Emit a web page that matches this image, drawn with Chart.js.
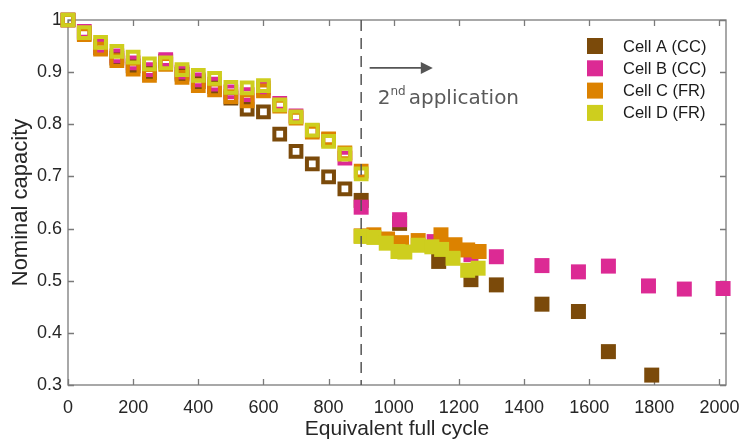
<!DOCTYPE html>
<html>
<head>
<meta charset="utf-8">
<script src="https://cdn.jsdelivr.net/npm/chart.js@4.4.0/dist/chart.umd.min.js"></script>
<style>
  html, body { margin: 0; padding: 0; background: #fff; }
  #wrap { width: 742px; height: 443px; }
</style>
</head>
<body>
<div id="wrap"><canvas id="capChart"></canvas></div>
<script>
// 1st application: every 50 cycles (hollow markers)
const cycles1 = [0, 50, 100, 150, 200, 250, 300, 350, 400, 450, 500, 550, 600, 650, 700, 750, 800, 850, 900];
const capA1 = [1.0, 0.975, 0.947, 0.927, 0.912, 0.899, 0.921, 0.896, 0.882, 0.872, 0.850, 0.829, 0.824, 0.781, 0.748, 0.724, 0.699, 0.676];
const capB1 = [1.0, 0.978, 0.950, 0.931, 0.918, 0.905, 0.924, 0.900, 0.885, 0.877, 0.862, 0.857, 0.870, 0.840, 0.816, 0.788, 0.770, 0.735];
const capC1 = [1.0, 0.972, 0.944, 0.922, 0.906, 0.894, 0.915, 0.890, 0.874, 0.866, 0.853, 0.845, 0.864, 0.835, 0.812, 0.785, 0.772, 0.745, 0.710];
const capD1 = [1.0, 0.976, 0.957, 0.940, 0.929, 0.916, 0.918, 0.905, 0.894, 0.888, 0.871, 0.870, 0.874, 0.837, 0.814, 0.789, 0.767, 0.743, 0.705];

// 2nd application (filled markers)
const cyclesA2 = [900, 1018, 1138, 1237, 1315, 1455, 1567, 1659, 1792];
const capA2 = [0.654, 0.610, 0.537, 0.502, 0.492, 0.455, 0.441, 0.364, 0.319];
const cyclesB2 = [900, 1018, 1124, 1237, 1315, 1455, 1567, 1659, 1782, 1892, 2011];
const capB2 = [0.641, 0.617, 0.575, 0.550, 0.546, 0.529, 0.517, 0.528, 0.490, 0.484, 0.485];
const cyclesC2 = [900, 939, 981, 1024, 1075, 1145, 1188, 1227, 1262];
const capC2 = [0.586, 0.588, 0.580, 0.573, 0.577, 0.588, 0.569, 0.559, 0.556];
const cyclesD2 = [900, 939, 977, 1013, 1034, 1075, 1117, 1147, 1182, 1227, 1259];
const capD2 = [0.585, 0.583, 0.572, 0.556, 0.555, 0.568, 0.565, 0.560, 0.543, 0.520, 0.524];

const cellNames = ['Cell A (CC)', 'Cell B (CC)', 'Cell C (FR)', 'Cell D (FR)'];
const cellColors = ['#7b4a0a', '#dc2a94', '#dc8200', '#cece1e'];

const xTicks = [0, 200, 400, 600, 800, 1000, 1200, 1400, 1600, 1800, 2000];
const yTicks = [0.3, 0.4, 0.5, 0.6, 0.7, 0.8, 0.9, 1.0];
const switchCycle = 900;

const sans = '"Liberation Sans", Arial, sans-serif';

function pts(xs, ys) {
  return ys.map((v, i) => ({ x: xs[i], y: v }));
}

function hollow(i, data) {
  return {
    label: cellNames[i], data: data, order: 3 - i, clip: false,
    pointStyle: 'rect', pointRadius: 7.6, pointHoverRadius: 7.6,
    pointBackgroundColor: 'rgba(0,0,0,0)', pointBorderColor: cellColors[i], pointBorderWidth: 4,
    showLine: false
  };
}
function filled(i, data) {
  return {
    label: cellNames[i], data: data, order: 3 - i, clip: false,
    pointStyle: 'rect', pointRadius: 10.6, pointHoverRadius: 10.6,
    pointBackgroundColor: cellColors[i], pointBorderColor: cellColors[i], pointBorderWidth: 0,
    showLine: false
  };
}

const datasets = [
  hollow(0, pts(cycles1, capA1)), filled(0, pts(cyclesA2, capA2)),
  hollow(1, pts(cycles1, capB1)), filled(1, pts(cyclesB2, capB2)),
  hollow(2, pts(cycles1, capC1)), filled(2, pts(cyclesC2, capC2)),
  hollow(3, pts(cycles1, capD1)), filled(3, pts(cyclesD2, capD2))
];

// box with inward ticks, dashed switch line, legend and arrow note
const decor = {
  id: 'decor',
  beforeDatasetsDraw(chart) {
    const { ctx, chartArea: a, scales: { x, y } } = chart;
    ctx.save();
    ctx.strokeStyle = '#7a7a7a';
    ctx.lineWidth = 1.3;
    ctx.strokeRect(a.left, a.top, a.right - a.left, a.bottom - a.top);
    ctx.beginPath();
    xTicks.forEach(v => {
      const px = Math.round(x.getPixelForValue(v)) + 0.5;
      ctx.moveTo(px, a.bottom); ctx.lineTo(px, a.bottom - 6);
      ctx.moveTo(px, a.top); ctx.lineTo(px, a.top + 6);
    });
    yTicks.forEach(v => {
      const py = Math.round(y.getPixelForValue(v)) + 0.5;
      ctx.moveTo(a.left, py); ctx.lineTo(a.left + 6, py);
      ctx.moveTo(a.right, py); ctx.lineTo(a.right - 6, py);
    });
    ctx.stroke();
    ctx.restore();
  },
  afterDatasetsDraw(chart) {
    const { ctx, chartArea: a, scales: { x } } = chart;
    const px = x.getPixelForValue(switchCycle);
    ctx.save();
    ctx.strokeStyle = '#555';
    ctx.lineWidth = 1.5;
    ctx.setLineDash([11, 7]);
    ctx.beginPath();
    ctx.moveTo(px, a.top);
    ctx.lineTo(px, a.bottom);
    ctx.stroke();
    ctx.restore();
  },
  afterDraw(chart) {
    const { ctx, scales: { x, y } } = chart;
    ctx.save();
    // legend
    ctx.font = '16.5px ' + sans;
    ctx.textBaseline = 'middle';
    ctx.textAlign = 'left';
    cellNames.forEach((name, i) => {
      const cy = 46 + i * 22.3;
      ctx.fillStyle = cellColors[i];
      ctx.fillRect(587, cy - 8, 16, 16);
      ctx.fillStyle = '#1a1a1a';
      ctx.fillText(name, 623, cy + 1);
    });
    // arrow
    const ax0 = x.getPixelForValue(926), ax1 = x.getPixelForValue(1120);
    const ay = y.getPixelForValue(0.908);
    ctx.strokeStyle = '#555';
    ctx.fillStyle = '#555';
    ctx.lineWidth = 1.7;
    ctx.beginPath();
    ctx.moveTo(ax0, ay);
    ctx.lineTo(ax1 - 9, ay);
    ctx.stroke();
    ctx.beginPath();
    ctx.moveTo(ax1, ay);
    ctx.lineTo(ax1 - 12, ay - 6);
    ctx.lineTo(ax1 - 12, ay + 6);
    ctx.closePath();
    ctx.fill();
    // "2nd application"
    const tx = x.getPixelForValue(951);
    const ty = 104;
    ctx.fillStyle = '#595959';
    ctx.textBaseline = 'alphabetic';
    ctx.font = '20px "DejaVu Sans", sans-serif';
    ctx.fillText('2', tx, ty);
    const w2 = ctx.measureText('2').width;
    ctx.font = '12px "DejaVu Sans", sans-serif';
    ctx.fillText('nd', tx + w2, ty - 9);
    const wnd = ctx.measureText('nd').width;
    ctx.font = '20px "DejaVu Sans", sans-serif';
    ctx.fillText('application', tx + w2 + wnd + 3, ty);
    ctx.restore();
  }
};

new Chart(document.getElementById('capChart'), {
  type: 'scatter',
  data: { datasets: datasets },
  options: {
    responsive: true,
    maintainAspectRatio: false,
    animation: false,
    devicePixelRatio: 1,
    layout: { padding: { top: 20, right: 16, left: 0, bottom: 0 } },
    plugins: {
      legend: { display: false },
      tooltip: { enabled: false }
    },
    scales: {
      x: {
        type: 'linear', min: 0, max: 2020,
        grid: { display: false, drawTicks: false }, border: { display: false },
        afterBuildTicks: s => { s.ticks = xTicks.map(v => ({ value: v })); },
        afterFit: s => { s.height = 58; s.paddingLeft = 0; s.paddingRight = 0; },
        ticks: {
          color: '#262626', padding: 12, maxRotation: 0,
          font: { family: sans, size: 18 },
          callback: v => String(v)
        },
        title: {
          display: true, text: 'Equivalent full cycle', color: '#262626', padding: { top: 0, bottom: 1 },
          font: { family: sans, size: 21 }
        }
      },
      y: {
        type: 'linear', min: 0.3, max: 1.0,
        grid: { display: false, drawTicks: false }, border: { display: false },
        afterBuildTicks: s => { s.ticks = yTicks.map(v => ({ value: v })); },
        afterFit: s => { s.width = 68; s.paddingTop = 0; s.paddingBottom = 0; },
        ticks: {
          color: '#262626', padding: 6,
          font: { family: sans, size: 18 },
          callback: v => String(+v.toFixed(1))
        },
        title: {
          display: true, text: 'Nominal capacity', color: '#262626', padding: { top: 8, bottom: 0 },
          font: { family: sans, size: 22 }
        }
      }
    }
  },
  plugins: [decor]
});
</script>
</body>
</html>
